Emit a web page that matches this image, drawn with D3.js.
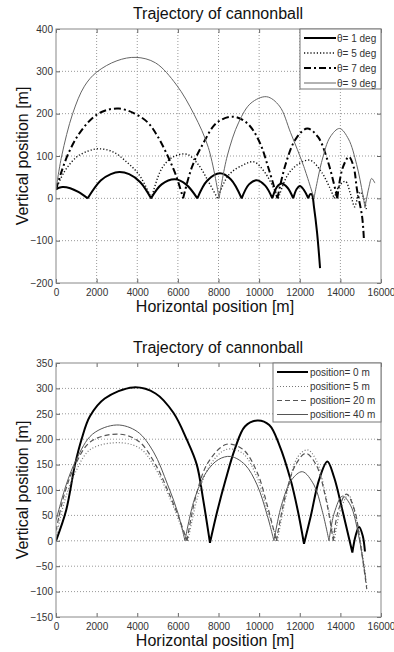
<!DOCTYPE html>
<html>
<head>
<meta charset="utf-8">
<script src="https://cdn.jsdelivr.net/npm/d3@7"></script>
<style>
  body { margin: 0; background: #fff; }
  svg { display: block; font-family: "Liberation Sans", Arial, sans-serif; }
</style>
</head>
<body>
<svg id="chart" width="394" height="652"></svg>
<script>
// Trajectory of cannonball - two panels

// --- top panel: launch angle ---
const thetaLabels = ['θ= 1 deg', 'θ= 5 deg', 'θ= 7 deg', 'θ= 9 deg'];

// each series is a list of arcs (bounce to bounce), points are [x, y] in metres
const theta1 = [
  [[0, 21], [150, 25], [330, 27], [700, 24], [1100, 15], [1560, 0]],
  [[1560, 0], [2200, 42], [2700, 57], [3120, 62], [3600, 57], [4150, 38], [4680, 0]],
  [[4680, 0], [5200, 33], [5860, 45], [6400, 33], [6960, 0]],
  [[6960, 0], [7450, 42], [8070, 59], [8600, 45], [9140, 0]],
  [[9140, 0], [9500, 33], [9880, 43], [10300, 30], [10650, 0]],
  [[10650, 0], [10880, 27], [11110, 35], [11400, 25], [11680, 0]],
  [[11680, 0], [11850, 22], [12010, 29], [12200, 20], [12420, 0]],
  [[12420, 0], [12520, 10], [12600, 9], [12700, -20], [12850, -80], [13000, -165]]
];
const theta5 = [
  [[0, 21], [400, 62], [1000, 97], [1600, 112], [2100, 117], [2800, 110], [3500, 85], [4100, 55], [4700, 0]],
  [[4700, 0], [5200, 70], [5770, 98], [6450, 104], [7000, 80], [7500, 40], [7950, 0]],
  [[7950, 0], [8500, 55], [9220, 79], [9750, 86], [10300, 60], [10950, 0]],
  [[10950, 0], [11400, 55], [11900, 80], [12500, 90], [13100, 60], [13700, 0]],
  [[13700, 0], [13950, 30], [14250, 40], [14500, 10], [14700, -20], [14850, 5]],
  [[14850, 5], [15000, 15], [15150, 0], [15300, -30]]
];
const theta7 = [
  [[0, 21], [250, 60], [600, 105], [1100, 150], [1800, 190], [2400, 207], [3100, 212], [3800, 202], [4500, 180], [4960, 150], [5450, 105], [5900, 55], [6260, 0]],
  [[6260, 0], [6700, 75], [7250, 130], [7900, 178], [8680, 193], [9400, 178], [10000, 135], [10500, 65], [10900, 0]],
  [[10900, 0], [11300, 80], [11800, 140], [12370, 165], [12900, 145], [13400, 85], [13850, 0]],
  [[13850, 0], [14100, 70], [14420, 98], [14650, 75], [14820, 20], [15070, -43], [15160, -98]]
];
const theta9 = [
  [[0, 21], [280, 100], [820, 200], [1400, 265], [2000, 298], [3000, 325], [3940, 333], [4900, 320], [5930, 268], [6800, 198], [7500, 120], [8030, 0]],
  [[8030, 0], [8430, 100], [9000, 180], [9600, 225], [10370, 240], [11000, 218], [11550, 155], [12200, 75], [12700, 0]],
  [[12700, 0], [13100, 90], [13500, 145], [13960, 165], [14400, 140], [14800, 80], [15100, 10], [15210, -22]],
  [[15210, -22], [15400, 25], [15540, 47], [15700, 36]]
];

// --- bottom panel: starting height ---
const positionLabels = ['position= 0 m', 'position= 5 m', 'position= 20 m', 'position= 40 m'];

const pos0 = [
  [[0, 0], [500, 60], [935, 150], [1260, 200], [1670, 245], [2400, 280], [3810, 302], [4900, 290], [5780, 252], [6430, 200], [6930, 150], [7250, 80], [7580, -4]],
  [[7580, -4], [7950, 60], [8350, 120], [8800, 180], [9300, 225], [9910, 237], [10500, 228], [11000, 188], [11550, 120], [11900, 60], [12210, -6]],
  [[12210, -6], [12550, 50], [12950, 120], [13360, 156], [13690, 125], [14100, 60], [14590, -23]],
  [[14590, -23], [14750, 10], [14920, 27], [15100, 10], [15210, -21]]
];
const pos5 = [
  [[0, 5], [400, 75], [900, 130], [1700, 180], [3200, 193], [4200, 180], [5000, 135], [5700, 75], [6200, 25], [6500, 0]],
  [[6500, 0], [7000, 90], [7600, 150], [8400, 180], [9200, 172], [9900, 125], [10400, 60], [10900, 0]],
  [[10900, 0], [11400, 100], [11900, 165], [12370, 179], [12800, 160], [13300, 85], [13700, 0]],
  [[13700, 0], [14000, 60], [14400, 90], [14800, 40], [15100, -30], [15300, -90]]
];
const pos20 = [
  [[0, 20], [400, 90], [900, 145], [1700, 195], [3100, 210], [4100, 195], [4900, 150], [5600, 90], [6100, 40], [6450, 0]],
  [[6450, 0], [6900, 90], [7500, 155], [8400, 190], [9200, 180], [9900, 135], [10400, 70], [10850, 0]],
  [[10850, 0], [11300, 90], [11800, 150], [12300, 172], [12800, 150], [13300, 80], [13650, 0]],
  [[13650, 0], [13900, 60], [14300, 92], [14700, 60], [15000, -10], [15300, -95]]
];
const pos40 = [
  [[0, 40], [500, 110], [1000, 160], [1800, 210], [2990, 228], [4000, 215], [4800, 175], [5500, 110], [6000, 55], [6350, 0]],
  [[6350, 0], [6800, 80], [7400, 135], [8000, 160], [8600, 166], [9300, 150], [9900, 110], [10400, 50], [10730, 0]],
  [[10730, 0], [11100, 70], [11600, 120], [12130, 136], [12700, 110], [13100, 60], [13440, 0]],
  [[13440, 0], [13700, 55], [14100, 88], [14500, 70], [14900, 10], [15250, -75]]
];

// tick values
const xTicks = [0, 2000, 4000, 6000, 8000, 10000, 12000, 14000, 16000];
const yTicksTop = [-200, -100, 0, 100, 200, 300, 400];
const yTicksBottom = [-150, -100, -50, 0, 50, 100, 150, 200, 250, 300, 350];

// line styles for the 4 series in each panel
const topStyles = [
  { color: '#000', width: 2, dash: null },
  { color: '#111', width: 1.4, dash: '1.2,2' },
  { color: '#000', width: 2, dash: '7,3,2,3' },
  { color: '#666', width: 1, dash: null }
];
const bottomStyles = [
  { color: '#000', width: 2, dash: null },
  { color: '#777', width: 1.2, dash: '1,2' },
  { color: '#555', width: 1.2, dash: '5,3' },
  { color: '#555', width: 1, dash: null }
];

const svg = d3.select('#chart');
svg.append('rect').attr('width', 394).attr('height', 652).attr('fill', '#fff');

function drawPanel(opts) {
  const { top, bottom, yDomain, yTicks, series, labels, styles, xGrid, legendBox, legendRows, sampleX, textX } = opts;
  const left = 56, right = 381;
  const x = d3.scaleLinear().domain([0, 16000]).range([left, right]);
  const y = d3.scaleLinear().domain(yDomain).range([bottom, top]);
  const g = svg.append('g');

  // grid
  if (xGrid) {
    g.append('g').selectAll('line')
      .data(xTicks.slice(1, -1))
      .enter().append('line')
      .attr('x1', d => x(d)).attr('x2', d => x(d))
      .attr('y1', top).attr('y2', bottom)
      .attr('stroke', '#999').attr('stroke-width', 1)
      .attr('stroke-dasharray', '1,2');
  }
  g.append('g').selectAll('line')
    .data(yTicks.slice(1, -1))
    .enter().append('line')
    .attr('x1', left).attr('x2', right)
    .attr('y1', d => y(d)).attr('y2', d => y(d))
    .attr('stroke', '#999').attr('stroke-width', 1)
    .attr('stroke-dasharray', '1,2');

  // curves
  const line = d3.line()
    .x(d => x(d[0]))
    .y(d => y(d[1]))
    .curve(d3.curveCatmullRom.alpha(0.5));

  const clipId = 'clip' + top;
  svg.append('clipPath').attr('id', clipId)
    .append('rect').attr('x', left).attr('y', top).attr('width', right - left).attr('height', bottom - top);

  g.append('g').attr('clip-path', `url(#${clipId})`)
    .selectAll('path')
    .data(series)
    .enter().append('path')
    .attr('d', arcs => arcs.map(a => line(a)).join(''))
    .attr('fill', 'none')
    .attr('stroke', (d, i) => styles[i].color)
    .attr('stroke-width', (d, i) => styles[i].width)
    .attr('stroke-dasharray', (d, i) => styles[i].dash)
    .attr('stroke-linejoin', 'round');

  // axes (MATLAB style, ticks inside on all four sides)
  const xAxis = g.append('g').attr('transform', `translate(0,${bottom})`)
    .call(d3.axisBottom(x).tickValues(xTicks).tickSize(-4).tickPadding(6).tickFormat(d3.format('d')));
  const xAxisTop = g.append('g').attr('transform', `translate(0,${top})`)
    .call(d3.axisTop(x).tickValues(xTicks).tickSize(-4).tickFormat(''));
  const yAxis = g.append('g').attr('transform', `translate(${left},0)`)
    .call(d3.axisLeft(y).tickValues(yTicks).tickSize(-4).tickPadding(3).tickFormat(d3.format('d')));
  const yAxisRight = g.append('g').attr('transform', `translate(${right},0)`)
    .call(d3.axisRight(y).tickValues(yTicks).tickSize(-4).tickFormat(''));

  [xAxis, xAxisTop, yAxis, yAxisRight].forEach(a => {
    a.select('.domain').remove();
    a.selectAll('.tick line').attr('stroke', '#666');
    a.selectAll('.tick text')
      .attr('fill', '#333')
      .style('font-size', '10px')
      .style('font-family', '"Liberation Sans", Arial, sans-serif');
  });

  // box
  g.append('rect')
    .attr('x', left).attr('y', top)
    .attr('width', right - left).attr('height', bottom - top)
    .attr('fill', 'none').attr('stroke', '#888').attr('stroke-width', 1);

  // title and labels
  g.append('text')
    .attr('x', 218).attr('y', top - 10)
    .attr('text-anchor', 'middle')
    .style('font-size', '16px').attr('fill', '#111')
    .text('Trajectory of cannonball');
  g.append('text')
    .attr('x', 215).attr('y', bottom + 29)
    .attr('text-anchor', 'middle')
    .style('font-size', '16px').attr('fill', '#111')
    .text('Horizontal position [m]');
  g.append('text')
    .attr('transform', `translate(28,${(top + bottom) / 2}) rotate(-90)`)
    .attr('text-anchor', 'middle')
    .style('font-size', '16px').attr('fill', '#111')
    .text('Vertical position [m]');

  // legend
  const lg = g.append('g');
  lg.append('rect')
    .attr('x', legendBox[0]).attr('y', legendBox[1])
    .attr('width', legendBox[2]).attr('height', legendBox[3])
    .attr('fill', '#fff').attr('stroke', '#777').attr('stroke-width', 1);
  const rows = lg.selectAll('g.row')
    .data(labels)
    .enter().append('g').attr('class', 'row')
    .attr('transform', (d, i) => `translate(0,${legendRows[i]})`);
  rows.append('line')
    .attr('x1', sampleX[0]).attr('x2', sampleX[1])
    .attr('y1', 0).attr('y2', 0)
    .attr('stroke', (d, i) => styles[i].color)
    .attr('stroke-width', (d, i) => styles[i].width)
    .attr('stroke-dasharray', (d, i) => styles[i].dash);
  rows.append('text')
    .attr('x', textX).attr('y', 0).attr('dy', '0.35em')
    .style('font-size', '10px').attr('fill', '#333')
    .text(d => d);
}

drawPanel({
  top: 29, bottom: 283,
  yDomain: [-200, 400], yTicks: yTicksTop,
  series: [theta1, theta5, theta7, theta9],
  labels: thetaLabels, styles: topStyles, xGrid: true,
  legendBox: [300, 29, 81, 60], legendRows: [38, 53, 68, 83],
  sampleX: [304, 336], textX: 337
});

drawPanel({
  top: 363, bottom: 617,
  yDomain: [-150, 350], yTicks: yTicksBottom,
  series: [pos0, pos5, pos20, pos40],
  labels: positionLabels, styles: bottomStyles, xGrid: false,
  legendBox: [273, 363, 108, 59], legendRows: [372, 386.5, 400.5, 414.5],
  sampleX: [277, 308], textX: 310
});
</script>
</body>
</html>
